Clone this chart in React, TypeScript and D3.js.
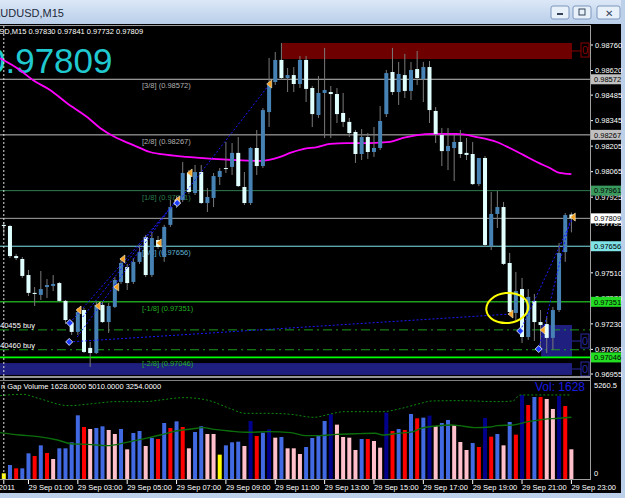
import * as d3 from 'd3';

// candles, 15 min bars from 29 Sep 00:00 to 23:00
const opens = [0.97773, 0.97767, 0.97602, 0.97586, 0.97498, 0.974, 0.97389, 0.97432, 0.97438, 0.97454, 0.97356, 0.97235, 0.97186, 0.97306, 0.97098, 0.9707, 0.97334, 0.9724, 0.97323, 0.9746, 0.97542, 0.9746, 0.9757, 0.97707, 0.97498, 0.9769, 0.97597, 0.97773, 0.9791, 0.9791, 0.98058, 0.97948, 0.98063, 0.97893, 0.97921, 0.98036, 0.98085, 0.98091, 0.98168, 0.97981, 0.97893, 0.98195, 0.98096, 0.98392, 0.98557, 0.98678, 0.98579, 0.98595, 0.98546, 0.98678, 0.98524, 0.98376, 0.98497, 0.98502, 0.98491, 0.98387, 0.98338, 0.98283, 0.98162, 0.98255, 0.98173, 0.98195, 0.98381, 0.98612, 0.98502, 0.98595, 0.98508, 0.98628, 0.98573, 0.98639, 0.98398, 0.98266, 0.98178, 0.98195, 0.98228, 0.98168, 0.98162, 0.97997, 0.9814, 0.97657, 0.97833, 0.97871, 0.97564, 0.9729, 0.97421, 0.97158, 0.97356, 0.9724, 0.97229, 0.97153, 0.97306, 0.97624, 0.9783];
const highs = [0.97789, 0.97773, 0.97613, 0.97597, 0.97526, 0.97432, 0.9752, 0.97476, 0.97498, 0.9746, 0.97361, 0.97246, 0.97317, 0.97317, 0.97131, 0.9735, 0.9735, 0.97345, 0.97487, 0.97591, 0.97559, 0.97591, 0.97663, 0.97718, 0.97734, 0.97712, 0.97773, 0.9791, 0.97932, 0.98118, 0.98074, 0.98102, 0.98102, 0.97975, 0.98058, 0.98085, 0.98228, 0.98222, 0.98255, 0.98063, 0.982, 0.98294, 0.98414, 0.98689, 0.98722, 0.98771, 0.98634, 0.98639, 0.987, 0.987, 0.98535, 0.9859, 0.98744, 0.98535, 0.98524, 0.98497, 0.9836, 0.98294, 0.98299, 0.98277, 0.9831, 0.98425, 0.98623, 0.98744, 0.98667, 0.98711, 0.98667, 0.98727, 0.98667, 0.98672, 0.9842, 0.98305, 0.98305, 0.98266, 0.98294, 0.9825, 0.98228, 0.9814, 0.98151, 0.97954, 0.97959, 0.97899, 0.97619, 0.97515, 0.97482, 0.97421, 0.97394, 0.97306, 0.97273, 0.97323, 0.97674, 0.97838, 0.97841];
const lows = [0.97718, 0.97591, 0.9758, 0.97482, 0.97383, 0.97328, 0.97361, 0.97372, 0.9741, 0.9735, 0.97229, 0.97169, 0.97169, 0.9707, 0.96994, 0.97065, 0.97235, 0.9718, 0.97317, 0.97449, 0.97416, 0.97449, 0.97559, 0.97487, 0.97487, 0.97641, 0.9757, 0.97762, 0.97866, 0.97899, 0.97943, 0.97937, 0.97888, 0.97844, 0.97871, 0.97992, 0.98058, 0.98047, 0.97981, 0.97882, 0.97882, 0.98047, 0.98085, 0.9831, 0.98541, 0.98568, 0.98502, 0.98502, 0.98524, 0.98447, 0.9831, 0.9836, 0.9825, 0.9825, 0.98332, 0.9831, 0.98255, 0.98113, 0.98129, 0.98135, 0.98146, 0.98184, 0.98365, 0.98486, 0.98431, 0.98469, 0.98458, 0.98541, 0.98447, 0.98332, 0.98222, 0.98096, 0.98074, 0.98014, 0.9814, 0.98129, 0.97992, 0.97986, 0.97652, 0.97635, 0.97756, 0.97553, 0.97279, 0.97251, 0.97125, 0.97142, 0.97136, 0.97087, 0.9707, 0.97087, 0.97295, 0.9757, 0.97732];
const closes = [0.97767, 0.97602, 0.97591, 0.97493, 0.974, 0.97394, 0.97421, 0.97443, 0.97449, 0.97356, 0.97251, 0.97186, 0.97295, 0.97076, 0.9707, 0.97334, 0.9724, 0.97328, 0.97471, 0.97564, 0.97454, 0.9757, 0.97624, 0.97498, 0.97701, 0.97652, 0.97762, 0.97871, 0.97882, 0.98058, 0.97954, 0.98063, 0.97893, 0.97926, 0.98041, 0.98069, 0.98083, 0.98168, 0.97986, 0.97893, 0.98195, 0.98096, 0.98403, 0.98541, 0.98678, 0.98579, 0.98595, 0.98546, 0.98678, 0.98519, 0.98381, 0.98497, 0.98513, 0.98491, 0.98381, 0.98338, 0.98277, 0.98162, 0.98255, 0.98173, 0.98195, 0.98343, 0.98606, 0.98502, 0.98601, 0.98508, 0.98623, 0.98579, 0.98639, 0.98403, 0.98272, 0.98178, 0.98206, 0.98228, 0.98162, 0.98157, 0.97997, 0.9814, 0.97663, 0.97833, 0.97871, 0.97559, 0.97295, 0.9741, 0.97158, 0.97378, 0.9724, 0.97224, 0.97153, 0.97306, 0.97619, 0.97827, 0.97809];

// moving average (bar index, price)
const maIdx = [-0.6, 2.6, 4.7, 7.5, 10.2, 13.5, 15.6, 18, 21, 23.7, 26.5, 29.7, 33.9, 37.1, 41.5, 44.8, 46.4, 48.5, 50.8, 52.9, 55.6, 59.3, 62.6, 64.7, 67, 69.6, 73.4, 76.7, 79.9, 82, 84.2, 86.4, 88.5, 90.1, 92];
const maVal = [0.98687, 0.98623, 0.98568, 0.98513, 0.98442, 0.98365, 0.98305, 0.98255, 0.98211, 0.98173, 0.98157, 0.98146, 0.98135, 0.98129, 0.98124, 0.98146, 0.98168, 0.98189, 0.982, 0.98217, 0.98222, 0.98222, 0.98228, 0.9825, 0.98266, 0.98272, 0.98272, 0.98255, 0.98228, 0.98195, 0.98157, 0.98118, 0.98085, 0.98058, 0.98052];

// gap volume
const volumes = [311, 767, 585, 585, 1407, 1261, 1845, 1425, 1096, 1681, 1681, 2010, 3490, 2850, 2740, 2795, 2887, 2686, 2466, 2740, 1626, 2521, 2631, 1809, 2247, 2192, 3069, 2795, 3161, 2850, 1681, 2576, 2887, 2466, 2466, 1334, 1845, 2010, 2046, 1809, 3179, 2357, 2540, 2722, 2265, 2302, 1681, 1681, 1370, 1754, 2247, 2375, 3179, 3544, 2978, 2302, 2265, 1590, 2192, 2192, 2083, 1717, 3636, 2631, 2740, 2686, 3563, 3325, 3362, 3471, 2905, 3069, 3234, 2960, 2028, 1590, 1973, 1754, 3343, 2320, 2466, 1845, 3124, 2430, 4604, 4056, 4494, 4494, 4385, 3837, 4549, 4001, 1628];
const volKinds = 'YBRBBRBRPBBBBRPBBPPBPBBPBRBRBRPBBPPYBBBPNRBNPBPPPBBBBNPPPPBRPPNRBRBRBNPBBPPPBRNRBPBRNRBRPPNRP';
const volColors: Record<string, string> = { Y: '#FFFF00', B: '#4169E1', R: '#FF0000', P: '#FFC0CB', N: '#00008B' };
const bandIdx = [-0.6, 3.1, 5.6, 10.5, 14.9, 18, 22.9, 25.4, 29.2, 32.9, 36.6, 39.1, 42.8, 46.5, 50.3, 52.7, 55.2, 61.4, 64.5, 67.6, 69.4, 73.8, 80.1, 82.5, 83.7, 86.3, 92];
const bandVal = [4568, 4641, 4421, 4019, 4147, 4238, 4238, 4330, 4458, 4330, 3873, 3599, 3599, 3544, 3380, 3544, 3690, 3690, 3873, 4147, 4275, 4293, 4238, 4275, 4604, 4604, 4604];
const vmaIdx = [-0.6, 2.5, 5.6, 8.7, 11.2, 13.6, 16.8, 19.9, 23, 25.4, 27.9, 30.4, 32.3, 34.1, 36.6, 39.7, 42.8, 46.5, 49, 50.9, 54, 57.7, 60.2, 61.4, 63.9, 66.4, 67.6, 70.1, 72.6, 73.8, 76.3, 78.8, 80, 82.5, 85, 87.5, 89.9, 92];
const vmaVal = [2540, 2412, 2320, 2138, 1918, 1900, 1827, 2010, 2229, 2412, 2631, 2740, 2814, 2722, 2631, 2558, 2594, 2540, 2375, 2375, 2448, 2485, 2503, 2412, 2503, 2594, 2777, 2905, 2960, 2923, 2814, 2850, 2923, 2960, 3142, 3270, 3325, 3380];

// Murrey math levels
const levelNames = ['[3/8]', '[2/8]', '[1/8]', '[0/8]', '[-1/8]', '[-2/8]'];
const levelValues = [0.98572, 0.98267, 0.97961, 0.97656, 0.97351, 0.97046];
const levelColors = ['#C0C0C0', '#C0C0C0', '#2E7D4F', '#7FE3E8', '#1FA01F', '#00FF00'];
const levelTextColors = ['#B0B0B0', '#B0B0B0', '#2E7D4F', '#5FB0D0', '#22B022', '#22B022'];
const levelTagBg = ['#C0C0C0', '#C0C0C0', '#3A9A5E', '#7FE3E8', '#22DD22', '#22DD22'];
const lastPrice = 0.97809;
const buyNames = ['40455 buy', '40460 buy'];
const buyPrices = [0.97197, 0.97088];

const priceTicks = [0.9876, 0.9862, 0.98485, 0.98345, 0.98205, 0.98065, 0.97925, 0.97785, 0.9751, 0.9737, 0.9723, 0.9709, 0.96955];
const timeIdx = [4, 12, 20, 28, 36, 44, 52, 60, 68, 76, 84, 92];
const timeLabels = ['29 Sep 01:00', '29 Sep 03:00', '29 Sep 05:00', '29 Sep 07:00', '29 Sep 09:00', '29 Sep 11:00', '29 Sep 13:00', '29 Sep 15:00', '29 Sep 17:00', '29 Sep 19:00', '29 Sep 21:00', '29 Sep 23:00'];

// zones: start bar, end bar, top, bottom
const zoneStart = [45.1, -2, 87.1];
const zoneEnd = [92.1, 92.1, 92.1];
const zoneTop = [0.98771, 0.97015, 0.97224];
const zoneBottom = [0.98683, 0.9695, 0.97048];
const zoneColors = ['#6E0000', '#1F1F80', '#1F1F80'];

// signal arrows and trend lines
const arrowIdx = [12.2, 15.3, 18.3, 19.3, 25.2, 28.2, 30.2, 43.1, 82.2, 87.4, 92.3];
const arrowVal = [0.97306, 0.97328, 0.97432, 0.97586, 0.97674, 0.9791, 0.98058, 0.98546, 0.97284, 0.97196, 0.97816];
const dotIdx = [10.7, 10.6, 28.1, 83.7, 86.7];
const dotVal = [0.97235, 0.97131, 0.97893, 0.97191, 0.97092];
const trendFrom = [[10.6, 0.97131], [10.7, 0.97235], [11.9, 0.97158], [12.8, 0.97268], [28.1, 0.97893], [83.7, 0.97191], [86.7, 0.97092]];
const trendTo = [[82.2, 0.97284], [28.2, 0.9791], [26.4, 0.97838], [28.6, 0.97937], [43.1, 0.98546], [92.3, 0.97816], [91.8, 0.978]];

const FONT = 'Liberation Sans, Arial, sans-serif';

export default function App() {
  const x = d3.scaleLinear().domain([0, 92]).range([3.8, 571.4]);
  const y = d3.scaleLinear().domain([0.96955, 0.9876]).range([374, 45]);
  const v = d3.scaleLinear().domain([0, 5260.5]).range([479, 383]);

  const maLine = d3.line<number>().x((d, i) => x(maIdx[i])).y((d) => y(d)).curve(d3.curveMonotoneX)(maVal) || '';
  const bandLine = d3.line<number>().x((d, i) => x(bandIdx[i])).y((d) => v(d)).curve(d3.curveMonotoneX)(bandVal) || '';
  const vmaLine = d3.line<number>().x((d, i) => x(vmaIdx[i])).y((d) => v(d)).curve(d3.curveMonotoneX)(vmaVal) || '';

  const ellipseX = x(81.6);
  const ellipseY = y(0.97317);

  return (
    <svg width={625} height={498} style={{ position: 'absolute', left: 0, top: 0, background: '#000' }} fontFamily={FONT}>
      <defs>
        <linearGradient id="title" x1="0" y1="0" x2="0" y2="1">
          <stop offset="0" stopColor="#DCE8F7" />
          <stop offset="1" stopColor="#B9CEE9" />
        </linearGradient>
        <clipPath id="main">
          <rect x={0} y={26} width={590} height={350} />
        </clipPath>
        <clipPath id="vol">
          <rect x={0} y={381} width={590} height={98} />
        </clipPath>
      </defs>

      {/* window frame */}
      <rect x={0} y={0} width={625} height={24} fill="url(#title)" />
      <rect x={621} y={0} width={4} height={498} fill="#BCD0EA" />
      <rect x={0} y={493} width={625} height={5} fill="#BCD0EA" />
      <text x={-7} y={17} fontSize={11} fill="#1E2A3A">AUDUSD,M15</text>
      {[551, 573, 597].map((bx, i) => (
        <g key={bx}>
          <rect x={bx} y={6} width={i === 2 ? 23 : 18} height={13} rx={2} fill="#E8F0FA" stroke="#7D97BD" />
          {i === 0 && <rect x={bx + 6} y={13} width={6} height={2} fill="#33445A" />}
          {i === 1 && <rect x={bx + 6} y={9} width={6} height={6} fill="none" stroke="#33445A" />}
          {i === 2 && <text x={bx + 11.5} y={16.5} fontSize={10} textAnchor="middle" fill="#33445A">✕</text>}
        </g>
      ))}

      <rect x={0} y={24} width={621} height={469} fill="#000" />
      <text x={-22} y={34} fontSize={7.5} fill="#FFF">AUDUSD,M15  0.97830 0.97841 0.97732 0.97809</text>

      {/* main chart */}
      <g clipPath="url(#main)">
        {zoneColors.map((c, i) => (
          <rect key={i} x={x(zoneStart[i])} y={y(zoneTop[i])} width={x(zoneEnd[i]) - x(zoneStart[i])} height={y(zoneBottom[i]) - y(zoneTop[i])} fill={c} />
        ))}
        <text x={-14} y={73} fontSize={35} fill="#20C8D0">0.97809</text>

        {levelValues.map((lv, i) => (
          <g key={lv}>
            <line x1={0} x2={590} y1={y(lv)} y2={y(lv)} stroke={levelColors[i]} strokeWidth={i >= 4 ? 1.6 : 1} />
            <text x={142} y={y(lv) + 9} fontSize={7.5} fill={levelTextColors[i]}>{`${levelNames[i]}  (${lv.toFixed(5)})`}</text>
          </g>
        ))}
        <line x1={0} x2={590} y1={y(lastPrice)} y2={y(lastPrice)} stroke="#A8A8A8" />
        {buyPrices.map((bp, i) => (
          <g key={bp}>
            <line x1={0} x2={590} y1={y(bp)} y2={y(bp)} stroke="#1E9A1E" strokeDasharray="9,4,2,4" />
            <text x={0} y={y(bp) - 2} fontSize={7.5} fill="#FFF">{buyNames[i]}</text>
          </g>
        ))}

        <path d={maLine} fill="none" stroke="#FF00FF" strokeWidth={1.8} />

        {opens.map((o, i) => {
          const c = closes[i];
          const up = c > o;
          const top = y(Math.max(o, c));
          const h = Math.max(1, y(Math.min(o, c)) - top);
          return (
            <g key={i}>
              <line x1={x(i)} x2={x(i)} y1={y(highs[i])} y2={y(lows[i])} stroke="#7A7A7A" />
              <rect x={x(i) - 2} y={top} width={4} height={h} fill={up ? '#4682B4' : '#E0FFFF'} />
            </g>
          );
        })}

        {trendFrom.map((f, i) => (
          <line key={i} x1={x(f[0])} y1={y(f[1])} x2={x(trendTo[i][0])} y2={y(trendTo[i][1])} stroke="#1A1AFF" strokeDasharray="2,2" />
        ))}
        {arrowIdx.map((ai, i) => {
          const ax = x(ai);
          const ay = y(arrowVal[i]);
          return <path key={i} d={`M${ax - 3},${ay} L${ax + 2},${ay - 4} L${ax + 2},${ay + 4} Z`} fill="#F5A020" stroke="#FFF4D0" strokeWidth={0.6} />;
        })}
        {dotIdx.map((di, i) => {
          const dx = x(di);
          const dy = y(dotVal[i]);
          return <path key={i} d={`M${dx},${dy - 3.5} L${dx + 3.5},${dy} L${dx},${dy + 3.5} L${dx - 3.5},${dy} Z`} fill="#1E3CFF" stroke="#FFF" strokeWidth={0.8} />;
        })}
        <ellipse cx={ellipseX} cy={ellipseY} rx={21} ry={15} fill="none" stroke="#FFFF00" strokeWidth={2} transform={`rotate(-6 ${ellipseX} ${ellipseY})`} />
      </g>

      {/* zone end markers */}
      {zoneColors.map((c, i) => {
        const mid = (y(zoneTop[i]) + y(zoneBottom[i])) / 2;
        const stroke = i === 0 ? '#8B0000' : '#2A2AA0';
        const by = i === 0 ? mid - 8 : mid - 7;
        return (
          <g key={i}>
            <line x1={x(zoneEnd[i])} x2={581} y1={mid} y2={mid} stroke={stroke} />
            <rect x={581} y={by} width={8} height={14} fill="none" stroke={stroke} />
            <text x={585} y={by + 11} fontSize={11} textAnchor="middle" fill={stroke}>0</text>
          </g>
        );
      })}

      {/* price axis */}
      {priceTicks.map((t) => (
        <g key={t}>
          <line x1={590} x2={593} y1={y(t)} y2={y(t)} stroke="#FFF" />
          <text x={595} y={y(t) + 2.8} fontSize={7.5} fill="#FFF">{t.toFixed(5)}</text>
        </g>
      ))}
      {[...levelValues, lastPrice].map((lv, i) => (
        <g key={lv}>
          <rect x={591} y={y(lv) - 5} width={30} height={10} fill={i < 6 ? levelTagBg[i] : '#FFF'} />
          <text x={594} y={y(lv) + 2.8} fontSize={7.5} fill="#000">{lv.toFixed(5)}</text>
        </g>
      ))}

      {/* volume window */}
      <g clipPath="url(#vol)">
        {volumes.map((vv, i) => (
          <rect key={i} x={x(i) - 2} y={v(vv)} width={4} height={v(0) - v(vv)} fill={volColors[volKinds[i]]} />
        ))}
        <path d={bandLine} fill="none" stroke="#0E8A0E" strokeDasharray="2,2" />
        <path d={vmaLine} fill="none" stroke="#0B6E0B" strokeWidth={1.4} />
      </g>
      <text x={1} y={389} fontSize={7.5} fill="#FFF">n Gap Volume 1628.0000 5010.0000 3254.0000</text>
      <text x={585} y={391} fontSize={12} textAnchor="end" fill="#1A1AE0">Vol:   1628</text>
      <text x={594} y={388} fontSize={7.5} fill="#FFF">5260.5</text>
      <text x={594} y={476} fontSize={7.5} fill="#FFF">0</text>

      {/* frames */}
      <line x1={0} x2={590} y1={25.5} y2={25.5} stroke="#A0A0A0" />
      <line x1={590.5} x2={590.5} y1={25} y2={480} stroke="#A0A0A0" />
      <line x1={0} x2={590} y1={377} y2={377} stroke="#C8C8C8" strokeWidth={1.5} />
      <line x1={0} x2={590} y1={380.5} y2={380.5} stroke="#808080" />
      <line x1={0} x2={590} y1={479.5} y2={479.5} stroke="#A0A0A0" />
      <line x1={x(0)} x2={x(0)} y1={26} y2={479} stroke="#E0E0E0" strokeDasharray="2,2" />

      {/* time axis */}
      <line x1={x(0)} x2={x(0)} y1={480} y2={484} stroke="#FFF" />
      <text x={15} y={490} fontSize={7.5} textAnchor="end" fill="#FFF">29 Sep 2011</text>
      {timeIdx.map((ti, i) => (
        <g key={ti}>
          <line x1={x(ti)} x2={x(ti)} y1={480} y2={484} stroke="#FFF" />
          <text x={x(ti)} y={490} fontSize={7.5} fill="#FFF">{timeLabels[i]}</text>
        </g>
      ))}
    </svg>
  );
}
